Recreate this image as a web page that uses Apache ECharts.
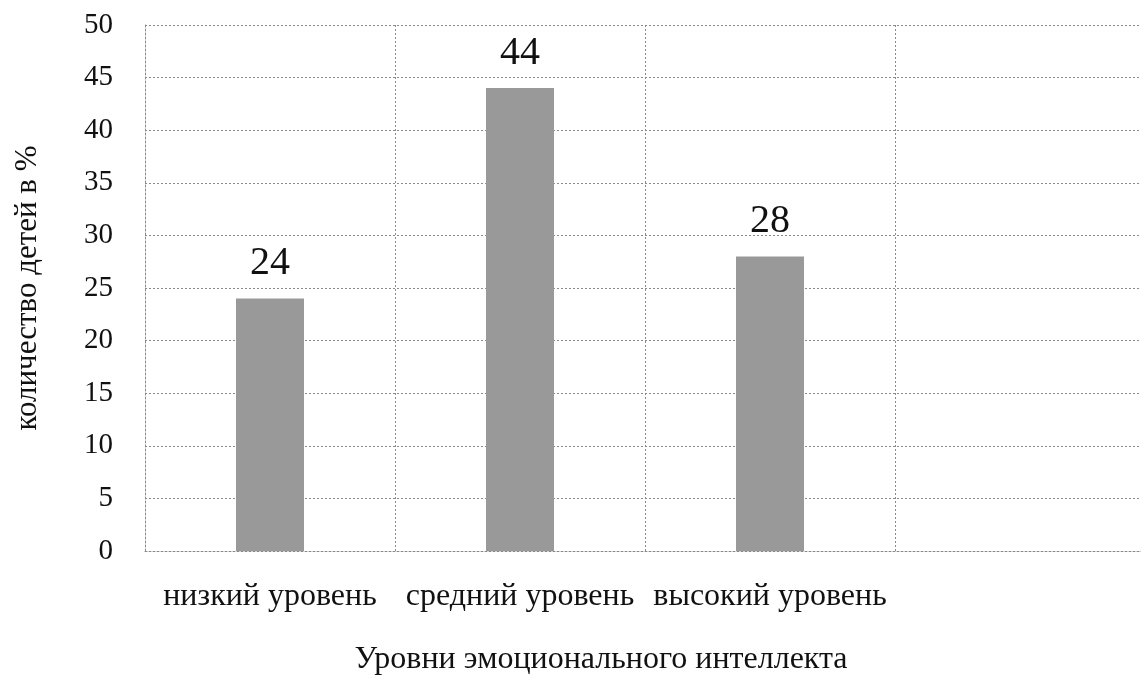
<!DOCTYPE html>
<html>
<head>
<meta charset="utf-8">
<script src="https://cdn.jsdelivr.net/npm/echarts@6/dist/echarts.min.js"></script>
<style>html,body{margin:0;padding:0;background:#fff;}#c{width:1141px;height:679px;}</style>
</head>
<body>
<div id="c"></div>
<script>
const categories = ['низкий уровень', 'средний уровень', 'высокий уровень', ''];
const values = [24, 44, 28, null];
const xAxisTitle = 'Уровни эмоционального интеллекта';
const yAxisTitle = 'количество детей в %';

const chart = echarts.init(document.getElementById('c'));
const serif = '"Liberation Serif", "DejaVu Serif", serif';
const gridLine = { show: true, interval: 0, lineStyle: { color: '#8a8a8a', type: [2, 2], width: 1 } };
chart.setOption({
  backgroundColor: '#ffffff',
  animation: false,
  grid: { left: 145, right: -4, top: 25, bottom: 128, outerBoundsMode: 'none', containLabel: false },
  xAxis: {
    type: 'category',
    data: categories,
    axisTick: { show: false },
    axisLine: { show: true, lineStyle: { color: '#8a8a8a', type: [2, 2] } },
    splitLine: gridLine,
    axisLabel: { interval: 0, hideOverlap: false, color: '#111', fontFamily: serif, fontSize: 32, margin: 30 },
    name: xAxisTitle,
    nameLocation: 'middle',
    nameGap: 93,
    nameTextStyle: { color: '#111', fontFamily: serif, fontSize: 32, padding: [0, 88, 0, 0] }
  },
  yAxis: {
    type: 'value',
    min: 0, max: 50, interval: 5,
    axisLine: { show: true, lineStyle: { color: '#8a8a8a', type: [2, 2] } },
    axisTick: { show: false },
    splitLine: { show: true, lineStyle: { color: '#8a8a8a', type: [2, 2], width: 1 } },
    axisLabel: { color: '#111', fontFamily: serif, fontSize: 29, margin: 32 },
    name: yAxisTitle,
    nameLocation: 'middle',
    nameGap: 102,
    nameTextStyle: { color: '#111', fontFamily: serif, fontSize: 31 }
  },
  series: [{
    type: 'bar',
    data: values,
    barWidth: 68,
    itemStyle: { color: '#999999' },
    label: { show: true, position: 'top', distance: 15, color: '#111', fontFamily: serif, fontSize: 40 }
  }]
});
</script>
</body>
</html>
